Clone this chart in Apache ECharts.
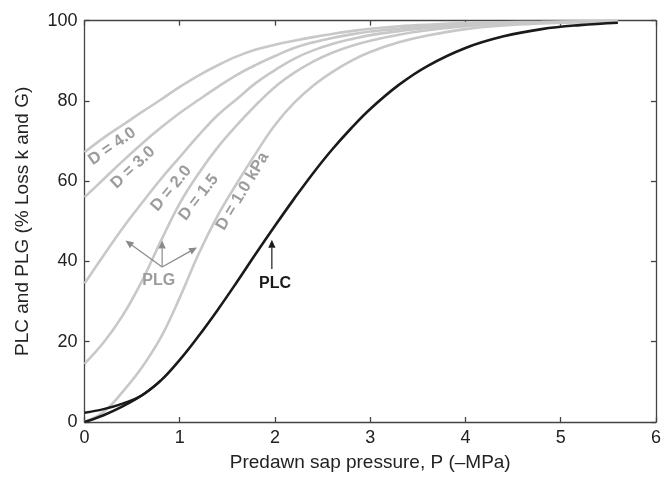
<!DOCTYPE html>
<html>
<head>
<meta charset="utf-8">
<script src="https://cdn.jsdelivr.net/npm/echarts@6/dist/echarts.min.js"></script>
<style>
html,body{margin:0;padding:0;background:#fff;}
#chart{width:664px;height:479px;}
</style>
</head>
<body>
<div id="chart"></div>
<script>
// Predawn sap pressure P (-MPa)
const P = [0,0.2,0.4,0.6,0.8,1.0,1.2,1.4,1.6,1.8,2.0,2.2,2.4,2.6,2.8,3.0,3.3,3.6,4.0,4.4,4.8,5.2,5.6];
// PLG curves (gray) for several D values
const plgD40 = [67.2,70.8,74,77.2,80.3,83.5,86.4,88.9,91.1,92.8,94,95,95.9,96.7,97.4,98,98.6,99,99.4,99.6,99.7,99.8,99.9];
const plgD30 = [56,60.5,65,69.3,73.3,77,80.3,83.5,86.5,89,91.2,93.2,94.6,95.7,96.6,97.3,98,98.6,99.1,99.4,99.6,99.8,99.8];
const plgD20 = [34.5,41.5,48.3,54.5,60.5,66,71.5,76.5,80.5,84.5,87.7,90.5,92.6,94.2,95.4,96.4,97.4,98.2,98.9,99.3,99.6,99.7,99.8];
const plgD15 = [14.5,19.8,26.5,35,45,54.5,62,68.5,74,79,83.5,87,89.8,92,93.7,95,96.5,97.6,98.6,99.1,99.5,99.7,99.8];
const plgD10 = [0,2.5,7.5,13.5,21,31,42,51.5,59.5,67,74,79.5,83.8,87.2,90,92.2,94.6,96.3,97.9,98.8,99.3,99.6,99.8];
// PLC curves (black)
const plcA = [0,1.7,3.9,6.6,10.3,15.5,21.5,28,34.9,42,48.9,55.6,62,67.9,73.2,78,84,88.7,93.2,96.1,97.9,98.9,99.5];
const plcB = [2.3,3.2,4.6,6.6,10.3];
const xTicks = [0,1,2,3,4,5,6];
const yTicks = [0,20,40,60,80,100];

// annotations (data coordinates)
const curveLabels = [
  {text:'D = 4.0', x:0.29, y:68.7, rot:35},
  {text:'D = 3.0', x:0.51, y:63.4, rot:43},
  {text:'D = 2.0', x:0.91, y:58.2, rot:50},
  {text:'D = 1.5', x:1.20, y:56.0, rot:52},
  {text:'D = 1.0 kPa', x:1.66, y:57.5, rot:59}
];
const plgLabel = {text:'PLG', x:0.78, y:35.3};
const plgArrowFrom = [0.815,38.6];
const plgArrowTo = [[0.431,45.2],[0.815,45.2],[1.181,43.5]];
const plcLabel = {text:'PLC', x:2.0, y:34.4};
const plcArrow = [[1.967,38.1],[1.967,45.4]];

function pairs(xs, ys){ return ys.map((v,i)=>[xs[i], v]); }

const chart = echarts.init(document.getElementById('chart'), null, {renderer:'canvas'});
const font = 'Liberation Sans, Arial, Helvetica, sans-serif';
const axisColor = '#444';
const gray = '#c8c8c8';

function grayLine(data){
  return {type:'line', data:pairs(P,data), showSymbol:false, smooth:0.4, silent:true,
    lineStyle:{color:gray, width:2.6}, z:2};
}
function blackLine(data){
  return {type:'line', data:pairs(P,data), showSymbol:false, smooth:0.4, silent:true,
    lineStyle:{color:'#1a1a1a', width:2.6}, z:3};
}
function axLine(){ return {show:true, onZero:false, lineStyle:{color:axisColor, width:1.3}}; }
function axTick(){ return {show:true, inside:true, length:5, lineStyle:{color:axisColor, width:1.3}}; }

const option = {
  animation:false,
  backgroundColor:'#fff',
  grid:{left:84.5, right:6.5, top:20.7, bottom:57},
  xAxis:[{
    type:'value', min:0, max:6, interval:1, position:'bottom',
    name:'Predawn sap pressure, P (\u2013MPa)', nameLocation:'middle', nameGap:31,
    nameTextStyle:{fontFamily:font, fontSize:19, color:'#222'},
    axisLine:axLine(), axisTick:axTick(),
    axisLabel:{fontFamily:font, fontSize:18, color:'#222', margin:7},
    splitLine:{show:false}
  },{
    type:'value', min:0, max:6, interval:1, position:'top',
    axisLine:axLine(), axisTick:axTick(),
    axisLabel:{show:false}, splitLine:{show:false}
  }],
  yAxis:[{
    type:'value', min:0, max:100, interval:20, position:'left',
    name:'PLC and PLG (% Loss k and G)', nameLocation:'middle', nameGap:52,
    nameTextStyle:{fontFamily:font, fontSize:19, color:'#222'},
    axisLine:axLine(), axisTick:axTick(),
    axisLabel:{fontFamily:font, fontSize:18, color:'#222', margin:7},
    splitLine:{show:false}
  },{
    type:'value', min:0, max:100, interval:20, position:'right',
    axisLine:axLine(), axisTick:axTick(),
    axisLabel:{show:false}, splitLine:{show:false}
  }],
  series:[
    grayLine(plgD40), grayLine(plgD30), grayLine(plgD20), grayLine(plgD15), grayLine(plgD10),
    blackLine(plcA),
    {type:'line', data:pairs(P.slice(0,plcB.length),plcB), showSymbol:false, smooth:0.4, silent:true,
      lineStyle:{color:'#1a1a1a', width:2.4}, z:3}
  ]
};
chart.setOption(option);

function px(pt){ return chart.convertToPixel({xAxisIndex:0, yAxisIndex:0}, pt); }
function arrow(from, to, color, width, head){
  const a = px(from), b = px(to);
  const ang = Math.atan2(b[1]-a[1], b[0]-a[0]);
  const h = head, w = head*0.45;
  const bx = b[0]-Math.cos(ang)*h, by = b[1]-Math.sin(ang)*h;
  const nx = -Math.sin(ang)*w, ny = Math.cos(ang)*w;
  return [
    {type:'line', shape:{x1:a[0], y1:a[1], x2:bx, y2:by}, style:{stroke:color, lineWidth:width}, z:10},
    {type:'polygon', shape:{points:[[b[0],b[1]],[bx+nx,by+ny],[bx-nx,by-ny]]}, style:{fill:color}, z:10}
  ];
}

const graphics = [];
curveLabels.forEach(l=>{
  const p = px([l.x,l.y]);
  graphics.push({type:'text', x:p[0], y:p[1], rotation:l.rot*Math.PI/180, z:10,
    style:{text:l.text, fill:'#9c9c9c', font:'bold 16.5px '+font, textAlign:'center', textVerticalAlign:'middle'}});
});
{
  const p = px([plgLabel.x, plgLabel.y]);
  graphics.push({type:'text', x:p[0], y:p[1], z:10,
    style:{text:plgLabel.text, fill:'#9c9c9c', font:'bold 16px '+font, textAlign:'center', textVerticalAlign:'middle'}});
  plgArrowTo.forEach(t=>{ arrow(plgArrowFrom, t, '#8a8a8a', 1.2, 8).forEach(g=>graphics.push(g)); });
  const q = px([plcLabel.x, plcLabel.y]);
  graphics.push({type:'text', x:q[0], y:q[1], z:10,
    style:{text:plcLabel.text, fill:'#1a1a1a', font:'bold 16px '+font, textAlign:'center', textVerticalAlign:'middle'}});
  arrow(plcArrow[0], plcArrow[1], '#1a1a1a', 1.2, 8).forEach(g=>graphics.push(g));
}
chart.setOption({graphic:graphics});
</script>
</body>
</html>
